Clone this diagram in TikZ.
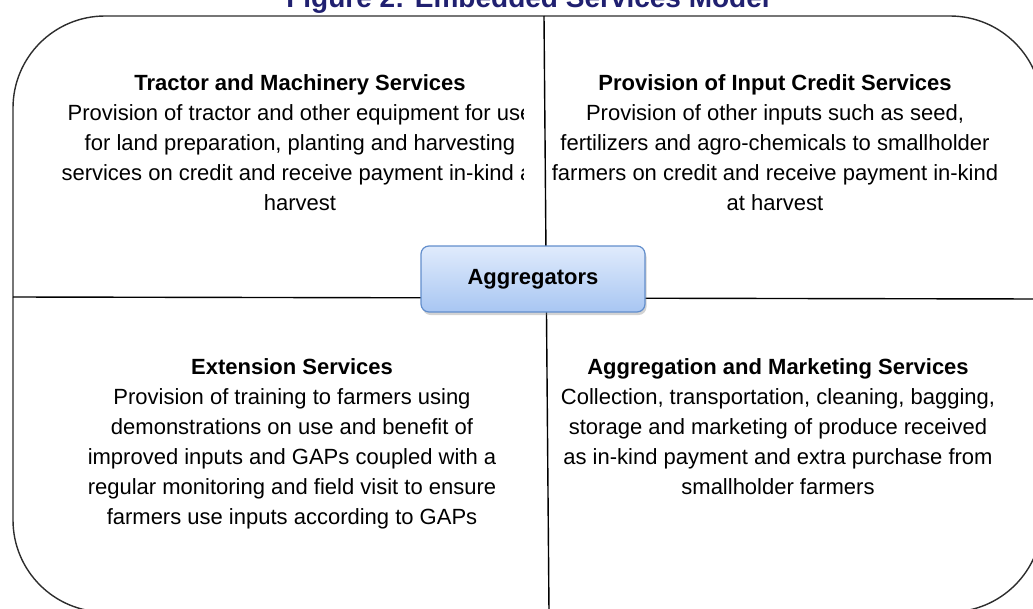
\documentclass[tikz,border=0pt]{standalone}
\usepackage{fontspec}
\setmainfont{Liberation Sans}
\usetikzlibrary{positioning,shadows}

\definecolor{titleblue}{RGB}{32,32,112}
\definecolor{hubtop}{RGB}{224,235,252}
\definecolor{hubbottom}{RGB}{168,198,242}
\definecolor{hubedge}{RGB}{98,142,204}
\definecolor{frameline}{RGB}{45,45,45}

\begin{document}
\begin{tikzpicture}[x=1pt,y=-1pt,
    frame/.style={draw=frameline,line width=1.4pt,rounded corners=92pt},
    divider/.style={draw=black,line width=1.4pt},
    hub/.style={draw=hubedge,line width=1.2pt,rounded corners=8pt,
                top color=hubtop,bottom color=hubbottom,
                minimum width=224pt,minimum height=66pt,
                font=\fontsize{22}{26}\selectfont\bfseries,
                drop shadow={shadow xshift=1.5pt,shadow yshift=-3pt,opacity=0.35}},
    service/.style={align=center,anchor=base,inner sep=0pt,
                    font=\fontsize{22}{30}\selectfont},
    heading/.style={anchor=base,font=\fontsize{28}{32}\selectfont\bfseries,
                    text=titleblue},
]

\useasboundingbox (0,0) rectangle (1033,608);

% ---- Caption (runs off the top) ------------------------------------------
\node[heading] (caption) at (528,7) {Figure 2: Embedded Services Model};

% ---- Outer frame and quadrant lines --------------------------------------
\draw[frame] (13,16) rectangle (1042,612);

\coordinate (ntop) at (544,16);
\coordinate (sbot) at (549,612);
\coordinate (wmid) at (13,297);
\coordinate (emid) at (1042,299);
\draw[divider] (ntop) -- (sbot);
\draw[divider] (wmid) -- (emid);

% ---- Quadrant texts (base = baseline of the last line) -------------------
\begin{scope}
  \clip (13,16) rectangle (523,297);
  \node[service] (tractor) at (300,210)
      {\textbf{Tractor and Machinery Services}\\
       Provision of tractor and other equipment for use\\
       for land preparation, planting and harvesting\\
       services on credit and receive payment in-kind at\\
       harvest};
\end{scope}

\node[service] (credit) at (775,210)
    {\textbf{Provision of Input Credit Services}\\
     Provision of other inputs such as seed,\\
     fertilizers and agro-chemicals to smallholder\\
     farmers on credit and receive payment in-kind\\
     at harvest};

\node[service] (extension) at (292,524)
    {\textbf{Extension Services}\\
     Provision of training to farmers using\\
     demonstrations on use and benefit of\\
     improved inputs and GAPs coupled with a\\
     regular monitoring and field visit to ensure\\
     farmers use inputs according to GAPs};

\node[service] (marketing) at (778,494)
    {\textbf{Aggregation and Marketing Services}\\
     Collection, transportation, cleaning, bagging,\\
     storage and marketing of produce received\\
     as in-kind payment and extra purchase from\\
     smallholder farmers};

% ---- Hub in the middle ---------------------------------------------------
\node[hub] (hub) at (533,279) {Aggregators};

\end{tikzpicture}
\end{document}
